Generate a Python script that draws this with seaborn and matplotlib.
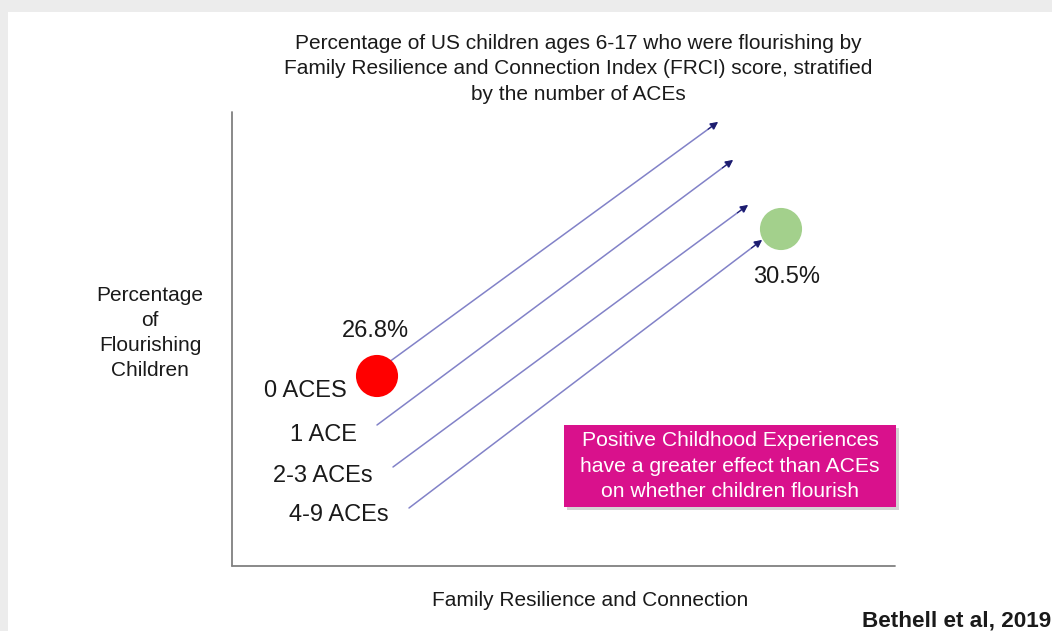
import matplotlib
matplotlib.use("Agg")
import matplotlib.pyplot as plt
import matplotlib.patches as mpatches
import pandas as pd
import seaborn as sns

# values (pixel space of the 1052x631 picture)
groups = ["0 ACES", "1 ACE", "2-3 ACEs", "4-9 ACEs"]
arrow_x0 = [385, 377, 393, 409]
arrow_y0 = [365, 425, 467, 508]
arrow_x1 = [718, 733, 748, 762]
arrow_y1 = [122, 160, 205, 240]
group_label_x = [305, 324, 323, 339]
group_label_y = [391, 435, 476, 515]

dot_names = ["low", "high"]
dot_x = [377, 781]
dot_y = [376, 229]
dot_colors = ["#ff0000", "#a3d08c"]
pct_labels = ["26.8%", "30.5%"]
pct_x = [375, 787]
pct_y = [331, 277]

title = ("Percentage of US children ages 6-17 who were flourishing by\n"
         "Family Resilience and Connection Index (FRCI) score, stratified\n"
         "by the number of ACEs")
ylab = "Percentage\nof\nFlourishing\nChildren"
xlab = "Family Resilience and Connection"
note = "Positive Childhood Experiences\nhave a greater effect than ACEs\non whether children flourish"
source = "Bethell et al, 2019"

sns.set_theme(style="white")
plt.rcParams['font.family'] = ['Liberation Sans', 'DejaVu Sans']

fig = plt.figure(figsize=(10.52, 6.31), dpi=100)
fig.patch.set_facecolor("#ececec")
ax = fig.add_axes([0, 0, 1, 1])

# white slide card
ax.add_patch(mpatches.Rectangle((8, 12), 1060, 640, facecolor="white", edgecolor="none", zorder=0))

# axis lines
ax.plot([232, 232], [112, 566], color="#808080", lw=1.3)
ax.plot([232, 895], [566, 566], color="#808080", lw=1.3)

# arrows
for i in range(len(groups)):
    ax.annotate("", xy=(arrow_x1[i], arrow_y1[i]), xytext=(arrow_x0[i], arrow_y0[i]),
                arrowprops=dict(arrowstyle="-|>", color="#8282c8", lw=1.1,
                                mutation_scale=11, shrinkA=0, shrinkB=0))
    # dark navy heads
    ax.annotate("", xy=(arrow_x1[i], arrow_y1[i]),
                xytext=(arrow_x1[i] - (arrow_x1[i] - arrow_x0[i]) * 0.03,
                        arrow_y1[i] - (arrow_y1[i] - arrow_y0[i]) * 0.03),
                arrowprops=dict(arrowstyle="-|>", color="#1c1c6e", lw=0.8,
                                mutation_scale=11, shrinkA=0, shrinkB=0))
    ax.text(group_label_x[i], group_label_y[i], groups[i], fontsize=17,
            ha="center", va="center", color="#1a1a1a")

dots = pd.DataFrame({"x": dot_x, "y": dot_y, "name": dot_names})
sns.scatterplot(data=dots, x="x", y="y", hue="name", palette=dot_colors,
                s=920, linewidth=0, legend=False, ax=ax, zorder=5)
ax.set_xlim(0, 1052)
ax.set_ylim(631, 0)
ax.axis("off")

for lab, x, y in zip(pct_labels, pct_x, pct_y):
    ax.text(x, y, lab, fontsize=17, ha="center", va="center", color="#1a1a1a")

ax.text(578, 69, title, fontsize=15, ha="center", va="center",
        color="#1a1a1a", linespacing=1.43)
ax.text(150, 333, ylab, fontsize=15, ha="center", va="center",
        color="#1a1a1a", linespacing=1.41)
ax.text(590, 601, xlab, fontsize=15, ha="center", va="center", color="#1a1a1a")
ax.text(862, 621, source, fontsize=16.2, ha="left", va="center",
        color="#1a1a1a", fontweight="bold")

# pink call-out box with shadow
ax.add_patch(mpatches.Rectangle((567, 428), 332, 82, facecolor="#b8b8b8",
                                edgecolor="none", alpha=0.6, zorder=3))
ax.add_patch(mpatches.Rectangle((564, 425), 332, 82, facecolor="#d9118c",
                                edgecolor="none", zorder=4))
ax.text(730, 466, note, fontsize=15.2, ha="center", va="center", color="white",
        linespacing=1.41, zorder=5)

fig.savefig("out.png", dpi=100)
